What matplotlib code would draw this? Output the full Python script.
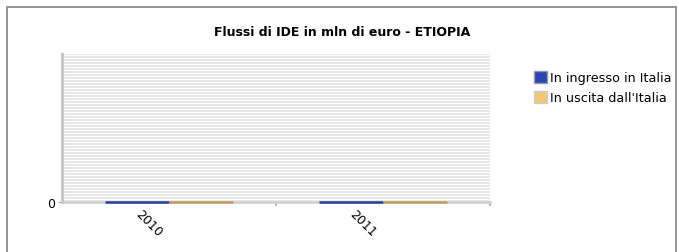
import numpy as np
import matplotlib.pyplot as plt
import matplotlib.patches as mpatches

years = ["2010", "2011"]
ingresso = [0, 0]
uscita = [0, 0]
series_labels = ["In ingresso in Italia", "In uscita dall'Italia"]
title = "Flussi di IDE in mln di euro - ETIOPIA"

W, H = 679, 253
fig = plt.figure(figsize=(W / 100, H / 100), dpi=100)

# outer frame
fig.add_artist(mpatches.Rectangle((7 / W, -0.1), (676 - 7) / W, 1.1 - 8 / H,
                                  transform=fig.transFigure, fill=False,
                                  edgecolor="#8c8c8c", linewidth=1.3))

ax = fig.add_axes((62 / W, 1 - 203 / H, (490 - 62) / W, (203 - 55) / H))
ax.set_xlim(-0.5, 1.5)
ax.set_ylim(0, 1)

# striped background
for y in np.arange(0.0, 1.0, 3 / 148):
    ax.axhspan(y, y + 1.6 / 148, color="#e8e8e8", linewidth=0, zorder=0)

x = np.arange(len(years))
w = 0.3
b1 = ax.bar(x - w / 2, ingresso, w, color="#2b45b5", edgecolor="#2a3e9a", linewidth=1.8, zorder=4)
b2 = ax.bar(x + w / 2, uscita, w, color="#f2c678", edgecolor="#c49a5e", linewidth=1.8, zorder=4)
for p in list(b1) + list(b2):
    p.set_clip_on(False)

for s in ["top", "right"]:
    ax.spines[s].set_visible(False)
ax.spines["left"].set_color("#c8c8c8")
ax.spines["left"].set_linewidth(2.2)
ax.spines["bottom"].set_color("#cfcfcf")
ax.spines["bottom"].set_linewidth(1.8)
ax.spines["bottom"].set_zorder(2)

ax.set_yticks([0])
ax.set_yticklabels(["0"], fontsize=9)
ax.tick_params(axis="y", length=3, color="#aaaaaa", pad=2)

ax.set_xticks([0.5, 1.5])
ax.set_xticklabels([])
ax.tick_params(axis="x", length=3, color="#aaaaaa", width=1.2)
for xi, lab in zip(x, years):
    ax.text(xi - 0.02, -0.03, lab, rotation=-45, ha="right", va="top", fontsize=9,
            transform=ax.get_xaxis_transform())

fig.text(342 / W, 1 - 33 / H, title, ha="center", va="center",
         fontsize=9.0, fontweight="bold")

handles = [mpatches.Patch(facecolor="#2b45b5", edgecolor="#999999", label=series_labels[0]),
           mpatches.Patch(facecolor="#f2c678", edgecolor="#cccccc", label=series_labels[1])]
fig.legend(handles=handles, loc="upper left", bbox_to_anchor=(534 / W, 1 - 72 / H),
           frameon=False, fontsize=9.2, handlelength=1.0, handleheight=1.05,
           handletextpad=0.25, labelspacing=0.5, borderpad=0, borderaxespad=0)

fig.savefig("out.png", dpi=100)
